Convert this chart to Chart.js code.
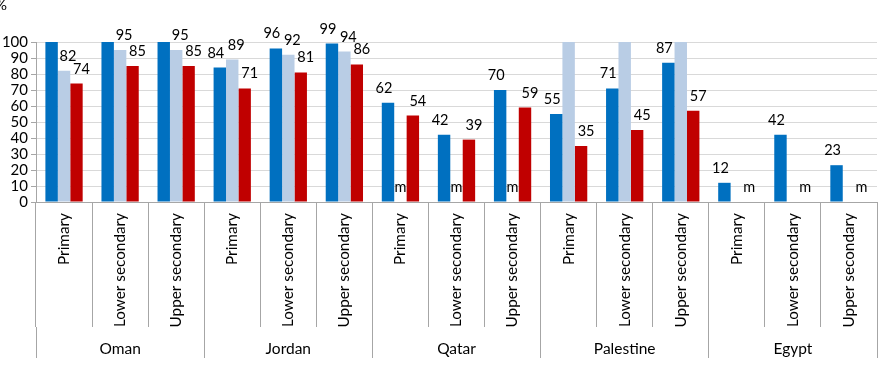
<!DOCTYPE html>
<html>
<head>
<meta charset="utf-8">
<script src="https://cdn.jsdelivr.net/npm/chart.js@4.4.1/dist/chart.umd.min.js"></script>
<style>
  html, body { margin: 0; padding: 0; background: #fff; }
  #wrap { width: 878px; height: 380px; position: relative; }
</style>
</head>
<body>
<div id="wrap"><canvas id="c" width="878" height="380"></canvas></div>
<script>
// ---- data ----
const countries = ['Oman', 'Jordan', 'Qatar', 'Palestine', 'Egypt'];
const levels = ['Primary', 'Lower secondary', 'Upper secondary'];
const categories = countries.flatMap(c => levels.map(l => c + ' ' + l));
const yTicks = [0, 10, 20, 30, 40, 50, 60, 70, 80, 90, 100];

// values above 100 run off the top of the chart (no label shown in the original)
const seriesBlue  = [103, 103, 103, 84, 96, 99, 62, 42, 70, 55, 71, 87, 12, 42, 23];
const seriesLight = [82, 95, 95, 89, 92, 94, null, null, null, 103, 103, 103, null, null, null];
const seriesRed   = [74, 85, 85, 71, 81, 86, 54, 39, 59, 35, 45, 57, null, null, null];
// "m" = missing data markers
const missingBlue  = [0,0,0, 0,0,0, 0,0,0, 0,0,0, 0,0,0];
const missingLight = [0,0,0, 0,0,0, 1,1,1, 0,0,0, 0,0,0];
const missingRed   = [0,0,0, 0,0,0, 0,0,0, 0,0,0, 1,1,1];

const FONT = 'Lato';

const valueLabels = {
  id: 'valueLabels',
  afterDatasetsDraw(chart) {
    const ctx = chart.ctx;
    const yScale = chart.scales.y;
    ctx.save();
    ctx.font = '14.5px ' + FONT;
    ctx.fillStyle = '#000';
    ctx.textAlign = 'center';
    ctx.textBaseline = 'alphabetic';
    chart.data.datasets.forEach((ds, i) => {
      const meta = chart.getDatasetMeta(i);
      meta.data.forEach((el, j) => {
        const v = ds.data[j];
        let txt = null, y = 0, dx = 0;
        if (v == null) {
          if (ds.missing[j]) { txt = 'm'; y = yScale.getPixelForValue(0); }
        } else if (v <= yScale.max) {
          txt = String(v); y = el.y; dx = ds.labelShift || 0;
        }
        if (txt) ctx.fillText(txt, el.x + dx, y - 10);
      });
    });
    ctx.restore();
  }
};

const unitLabel = {
  id: 'unitLabel',
  afterDraw(chart) {
    const ctx = chart.ctx;
    ctx.save();
    ctx.font = '15px ' + FONT;
    ctx.fillStyle = '#000';
    ctx.textAlign = 'left';
    ctx.textBaseline = 'alphabetic';
    ctx.fillText('%', -5, 10);
    ctx.restore();
  }
};

function build() {
  new Chart(document.getElementById('c'), {
    type: 'bar',
    data: {
      labels: categories.map((c, i) => levels[i % 3]),
      datasets: [
        { data: seriesBlue, missing: missingBlue, labelShift: -4, backgroundColor: '#0070C0', clip: 0 },
        { data: seriesLight, missing: missingLight, labelShift: 4, backgroundColor: '#B9CDE5', clip: 0 },
        { data: seriesRed, missing: missingRed, labelShift: 5, backgroundColor: '#C00000', clip: 0 }
      ]
    },
    options: {
      responsive: false,
      animation: false,
      events: [],
      categoryPercentage: 0.665,
      barPercentage: 1.0,
      layout: { padding: { top: 42, right: 1, left: 0, bottom: 22 } },
      plugins: { legend: { display: false }, tooltip: { enabled: false } },
      scales: {
        y: {
          min: 0, max: 100,
          afterBuildTicks(scale) { scale.ticks = yTicks.map(v => ({ value: v })); },
          afterFit(scale) { scale.width = 36; },
          ticks: { font: { family: FONT, size: 15 }, color: '#000', padding: 3, autoSkip: false },
          grid: { color: '#D9D9D9', tickColor: '#A6A6A6', tickLength: 5 },
          border: { display: true, color: '#A6A6A6' }
        },
        x: {
          position: 'bottom',
          afterFit(scale) { scale.height = 125; },
          ticks: {
            font: { family: FONT, size: 15.3 }, color: '#000',
            maxRotation: 90, minRotation: 90, autoSkip: false, padding: -114
          },
          grid: { offset: true, drawOnChartArea: false, color: '#A6A6A6', tickLength: 125 },
          border: { display: true, color: '#A6A6A6' }
        },
        x2: {
          type: 'category',
          position: 'bottom',
          labels: countries,
          afterFit(scale) { scale.height = 31; },
          ticks: { font: { family: FONT, size: 15.5 }, color: '#000', padding: -18 },
          grid: { offset: true, drawOnChartArea: false, color: '#A6A6A6', tickLength: 31 },
          border: { display: false }
        }
      }
    },
    plugins: [valueLabels, unitLabel]
  });
}
if (document.fonts && document.fonts.load) {
  document.fonts.load('15px ' + FONT).then(build, build);
} else { build(); }
</script>
</body>
</html>
